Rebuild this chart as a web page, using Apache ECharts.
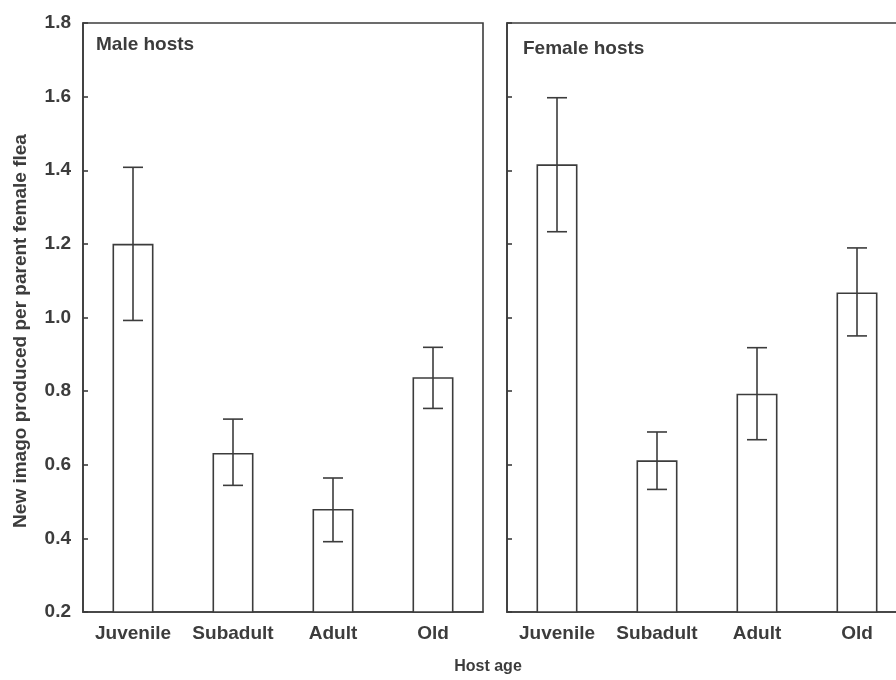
<!DOCTYPE html>
<html>
<head>
<meta charset="utf-8">
<script src="https://cdn.jsdelivr.net/npm/echarts@6/dist/echarts.min.js"></script>
<style>
  html, body { margin: 0; padding: 0; background: #fff; overflow: hidden; }
  /* the right panel runs past the window's right edge */
  #chart { width: 912px; height: 680px; }
</style>
</head>
<body>
<div id="chart"></div>
<script>
// Host age groups
const categories = ['Juvenile', 'Subadult', 'Adult', 'Old'];

// Mean new imago per parent female flea, with error bar limits
const maleMean  = [1.20, 0.632, 0.480, 0.838];
const maleLow   = [0.992, 0.544, 0.391, 0.753];
const maleHigh  = [1.408, 0.724, 0.564, 0.919];

const femaleMean = [1.416, 0.612, 0.793, 1.068];
const femaleLow  = [1.233, 0.533, 0.668, 0.950];
const femaleHigh = [1.597, 0.689, 0.918, 1.189];

const yTicks = { min: 0.2, max: 1.8, step: 0.2 };

const INK = '#3c3c3c';
const FONT = 'Liberation Sans, Arial, sans-serif';

function errorSeries(idx, low, high) {
  return {
    type: 'custom',
    xAxisIndex: idx,
    yAxisIndex: idx,
    z: 5,
    data: low.map((l, i) => [i, l, high[i]]),
    renderItem: function (params, api) {
      const i = api.value(0);
      const lo = api.coord([i, api.value(1)]);
      const hi = api.coord([i, api.value(2)]);
      const half = 10;
      const style = { stroke: INK, lineWidth: 1.6 };
      return {
        type: 'group',
        children: [
          { type: 'line', shape: { x1: lo[0], y1: lo[1], x2: hi[0], y2: hi[1] }, style: style },
          { type: 'line', shape: { x1: hi[0] - half, y1: hi[1], x2: hi[0] + half, y2: hi[1] }, style: style },
          { type: 'line', shape: { x1: lo[0] - half, y1: lo[1], x2: lo[0] + half, y2: lo[1] }, style: style }
        ]
      };
    }
  };
}

function barSeries(idx, values) {
  return {
    type: 'bar',
    xAxisIndex: idx,
    yAxisIndex: idx,
    data: values,
    barWidth: 41,
    itemStyle: { color: '#fff', borderColor: INK, borderWidth: 1.6 }
  };
}

function xAxisFor(idx) {
  return {
    type: 'category',
    gridIndex: idx,
    data: categories,
    axisLine: { show: true, lineStyle: { color: INK, width: 1.6 } },
    axisTick: { show: false },
    axisLabel: { interval: 0, color: INK, fontSize: 19, fontWeight: 'bold', fontFamily: FONT, margin: 12 }
  };
}

function yAxisFor(idx, showLabels) {
  return {
    type: 'value',
    gridIndex: idx,
    min: yTicks.min,
    max: yTicks.max,
    interval: yTicks.step,
    axisLine: { show: true, lineStyle: { color: INK, width: 1.6 } },
    axisTick: { show: true, inside: true, length: 5, lineStyle: { color: INK, width: 1.6 } },
    splitLine: { show: false },
    axisLabel: {
      show: showLabels,
      color: INK, fontSize: 19, fontWeight: 'bold', fontFamily: FONT, margin: 12,
      formatter: v => v.toFixed(1)
    }
  };
}

const chart = echarts.init(document.getElementById('chart'), null, { renderer: 'canvas' });

chart.setOption({
  backgroundColor: '#fff',
  animation: false,
  title: [
    { text: 'Male hosts', left: 96, top: 35, padding: 0,
      textStyle: { color: INK, fontSize: 19, fontWeight: 'bold', fontFamily: FONT } },
    { text: 'Female hosts', left: 523, top: 39, padding: 0,
      textStyle: { color: INK, fontSize: 19, fontWeight: 'bold', fontFamily: FONT } }
  ],
  grid: [
    { left: 83, top: 23, width: 400, height: 589, show: true, borderColor: INK, borderWidth: 1.6, backgroundColor: 'transparent' },
    { left: 507, top: 23, width: 400, height: 589, show: true, borderColor: INK, borderWidth: 1.6, backgroundColor: 'transparent' }
  ],
  xAxis: [xAxisFor(0), xAxisFor(1)],
  yAxis: [yAxisFor(0, true), yAxisFor(1, false)],
  series: [
    barSeries(0, maleMean),
    errorSeries(0, maleLow, maleHigh),
    barSeries(1, femaleMean),
    errorSeries(1, femaleLow, femaleHigh)
  ],
  graphic: [
    {
      type: 'text', x: 21, y: 331, rotation: Math.PI / 2,
      style: {
        text: 'New imago produced per parent female flea',
        fill: INK, font: 'bold 19px ' + FONT,
        textAlign: 'center', textVerticalAlign: 'middle'
      }
    },
    {
      type: 'text', x: 488, y: 667,
      style: {
        text: 'Host age',
        fill: INK, font: 'bold 16px ' + FONT,
        textAlign: 'center', textVerticalAlign: 'middle'
      }
    }
  ]
});
</script>
</body>
</html>
